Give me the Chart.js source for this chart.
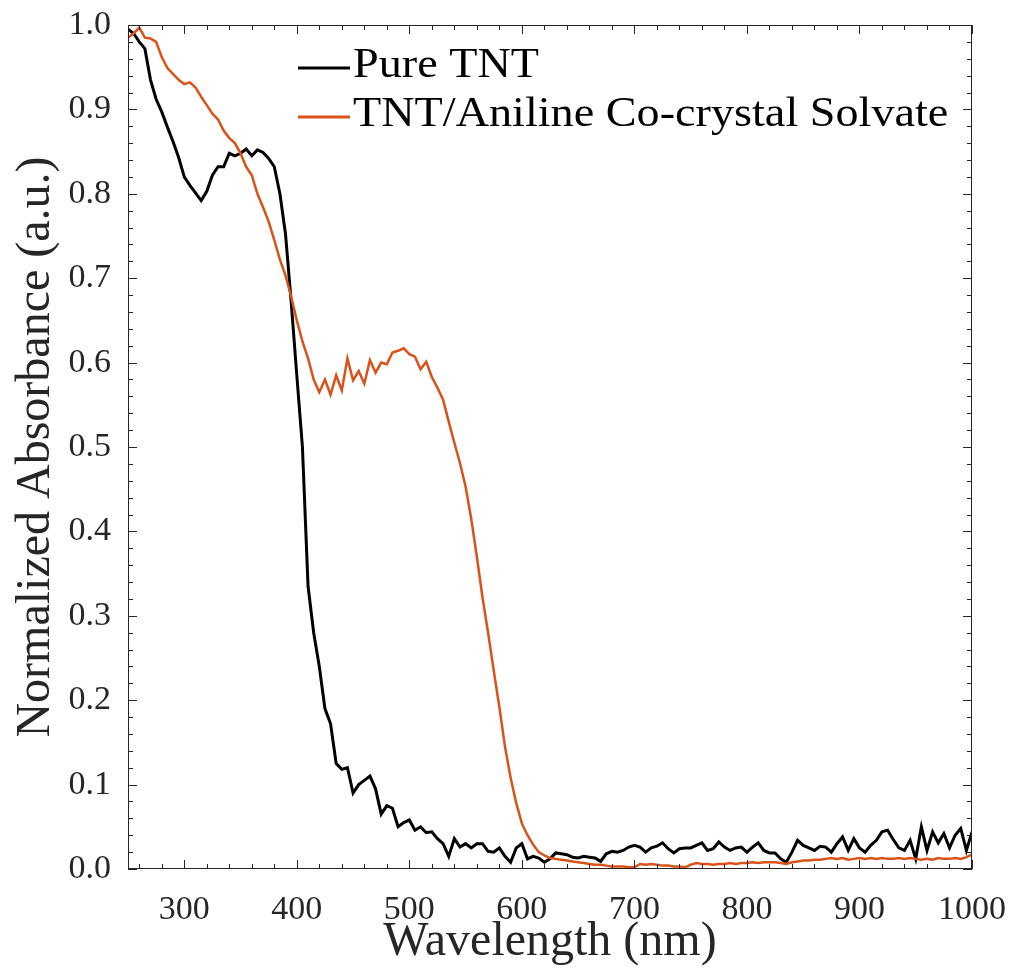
<!DOCTYPE html>
<html>
<head>
<meta charset="utf-8">
<script src="https://cdn.jsdelivr.net/npm/chart.js@4.4.1/dist/chart.umd.min.js"></script>
<style>
  body { margin: 0; background: #fff; }
  #wrap { width: 1011px; height: 971px; }
</style>
</head>
<body>
<div id="wrap"><canvas id="chSpec" width="1011" height="971"></canvas></div>
<script>
// sampling grid, 5 nm steps from 250 to 1000 nm
var wavelengths = [];
for (var w = 250; w <= 1000; w += 5) { wavelengths.push(w); }

// Pure TNT
var pureTNT = [
    0.995, 0.99, 0.98, 0.972, 0.935, 0.912, 0.897, 0.879, 0.862, 0.843,
    0.82, 0.81, 0.801, 0.792, 0.803, 0.822, 0.832, 0.832, 0.848, 0.845,
    0.848, 0.853, 0.845, 0.852, 0.849, 0.842, 0.832, 0.80, 0.752, 0.672,
    0.585, 0.50, 0.335, 0.28, 0.24, 0.19, 0.172, 0.125, 0.118, 0.12,
    0.09, 0.10, 0.105, 0.11, 0.095, 0.065, 0.075, 0.072, 0.05, 0.055,
    0.058, 0.046, 0.05, 0.043, 0.044, 0.036, 0.03, 0.015, 0.036, 0.026,
    0.03, 0.025, 0.03, 0.03, 0.021, 0.02, 0.025, 0.015, 0.008, 0.025,
    0.03, 0.012, 0.015, 0.013, 0.008, 0.012, 0.019, 0.018, 0.017, 0.014,
    0.013, 0.015, 0.014, 0.013, 0.009, 0.018, 0.021, 0.02, 0.022, 0.026,
    0.028, 0.026, 0.02, 0.025, 0.027, 0.031, 0.024, 0.019, 0.024, 0.025,
    0.025, 0.028, 0.031, 0.022, 0.024, 0.032, 0.026, 0.022, 0.025, 0.026,
    0.02, 0.026, 0.031, 0.022, 0.019, 0.019, 0.012, 0.008, 0.02, 0.034,
    0.028, 0.025, 0.022, 0.027, 0.026, 0.02, 0.03, 0.038, 0.022, 0.036,
    0.025, 0.02, 0.028, 0.034, 0.044, 0.046, 0.035, 0.025, 0.022, 0.034,
    0.012, 0.05, 0.022, 0.044, 0.031, 0.042, 0.025, 0.04, 0.048, 0.022,
    0.044
];

// TNT/Aniline co-crystal solvate
var coCrystal = [
    0.985, 0.99, 0.997, 0.985, 0.984, 0.98, 0.962, 0.949, 0.942, 0.935,
    0.93, 0.932, 0.926, 0.915, 0.905, 0.895, 0.888, 0.875, 0.866, 0.86,
    0.848, 0.832, 0.822, 0.80, 0.784, 0.767, 0.745, 0.722, 0.703, 0.678,
    0.65, 0.625, 0.605, 0.58, 0.565, 0.58, 0.562, 0.585, 0.567, 0.605,
    0.579, 0.59, 0.575, 0.603, 0.588, 0.60, 0.598, 0.612, 0.614, 0.617,
    0.61, 0.607, 0.592, 0.601, 0.583, 0.57, 0.556, 0.53, 0.505, 0.481,
    0.453, 0.415, 0.37, 0.322, 0.28, 0.235, 0.192, 0.145, 0.108, 0.078,
    0.054, 0.04, 0.029, 0.02, 0.016, 0.013, 0.012, 0.011, 0.01, 0.009,
    0.008, 0.007, 0.006, 0.005, 0.005, 0.004, 0.003, 0.003, 0.003, 0.002,
    0.002, 0.006, 0.005, 0.006, 0.005, 0.004, 0.004, 0.003, 0.003, 0.002,
    0.005, 0.007, 0.006, 0.006, 0.005, 0.006, 0.006, 0.007, 0.006, 0.007,
    0.007, 0.008, 0.007, 0.008, 0.008, 0.008, 0.007, 0.006, 0.008, 0.009,
    0.01, 0.01, 0.011, 0.011, 0.012, 0.013, 0.012, 0.013, 0.011, 0.012,
    0.013, 0.012, 0.013, 0.012, 0.013, 0.012, 0.012, 0.013, 0.012, 0.013,
    0.012, 0.011, 0.012, 0.011, 0.013, 0.012, 0.012, 0.013, 0.012, 0.014,
    0.017
];

var seriesNames = ['Pure TNT', 'TNT/Aniline Co-crystal Solvate'];
var seriesColors = ['#000000', '#D95319'];
var xTicks = [300, 400, 500, 600, 700, 800, 900, 1000];

var axisColor = '#262626';
var fontFam = '"Liberation Serif", "Times New Roman", serif';

function toPoints(vals) {
    return vals.map(function (v, i) { return { x: wavelengths[i], y: v }; });
}

// box, inward ticks (major + minor) and legend
var framePlugin = {
    id: 'frame',
    afterDatasetsDraw: function (chart) {
        var ctx = chart.ctx;
        var a = chart.chartArea;
        var xs = chart.scales.x, ys = chart.scales.y;
        ctx.save();
        ctx.strokeStyle = axisColor;
        ctx.lineWidth = 1;
        ctx.strokeRect(a.left + 0.5, a.top + 0.5, a.right - a.left - 1, a.bottom - a.top - 1);
        ctx.beginPath();
        // x ticks every 20 nm
        for (var w = 260; w <= 1000; w += 20) {
            var px = Math.round(xs.getPixelForValue(w)) + 0.5;
            var len = (w % 100 === 0) ? 9 : 5;
            ctx.moveTo(px, a.bottom); ctx.lineTo(px, a.bottom - len);
            ctx.moveTo(px, a.top); ctx.lineTo(px, a.top + len);
        }
        // y ticks every 0.02
        for (var k = 0; k <= 50; k++) {
            var py = Math.round(ys.getPixelForValue(k * 0.02)) + 0.5;
            var l2 = (k % 5 === 0) ? 9 : 5;
            ctx.moveTo(a.left, py); ctx.lineTo(a.left + l2, py);
            ctx.moveTo(a.right, py); ctx.lineTo(a.right - l2, py);
        }
        ctx.stroke();

        // legend
        ctx.font = '42px ' + fontFam;
        ctx.textBaseline = 'middle';
        ctx.fillStyle = '#000';
        for (var i = 0; i < seriesNames.length; i++) {
            var ly = 68 + i * 49;
            ctx.strokeStyle = seriesColors[i];
            ctx.lineWidth = 3;
            ctx.beginPath();
            ctx.moveTo(298, ly); ctx.lineTo(350, ly);
            ctx.stroke();
            ctx.save();
            ctx.translate(353, ly - 2);
            ctx.scale(1.1, 1);
            ctx.fillText(seriesNames[i], 0, 0);
            ctx.restore();
        }
        ctx.restore();
    }
};

new Chart(document.getElementById('chSpec'), {
    type: 'line',
    data: {
        datasets: [
            {
                label: seriesNames[0],
                data: toPoints(pureTNT),
                borderColor: seriesColors[0],
                borderWidth: 3,
                pointRadius: 0,
                tension: 0,
                order: 1
            },
            {
                label: seriesNames[1],
                data: toPoints(coCrystal),
                borderColor: seriesColors[1],
                borderWidth: 2.5,
                pointRadius: 0,
                tension: 0,
                order: 0
            }
        ]
    },
    options: {
        responsive: false,
        animation: false,
        layout: { padding: { top: 25, right: 39, left: 0, bottom: 0 } },
        plugins: { legend: { display: false }, tooltip: { enabled: false } },
        scales: {
            x: {
                type: 'linear',
                min: 250,
                max: 1000,
                afterFit: function (s) { s.height = 102; s.paddingLeft = 0; s.paddingRight = 0; },
                afterBuildTicks: function (s) {
                    s.ticks = xTicks.map(function (v) { return { value: v }; });
                },
                grid: { display: false },
                border: { display: false },
                ticks: {
                    autoSkip: false,
                    maxRotation: 0,
                    padding: 13,
                    color: axisColor,
                    font: { family: fontFam, size: 34 },
                    callback: function (v) { return String(v); }
                },
                title: {
                    display: true,
                    text: 'Wavelength (nm)',
                    color: axisColor,
                    font: { family: fontFam, size: 48, lineHeight: 1.2 },
                    padding: { top: 0, bottom: 0 }
                }
            },
            y: {
                min: 0,
                max: 1,
                afterFit: function (s) { s.width = 128; s.paddingTop = 0; s.paddingBottom = 0; },
                grid: { display: false },
                border: { display: false },
                ticks: {
                    stepSize: 0.1,
                    padding: 9,
                    color: axisColor,
                    font: { family: fontFam, size: 34 },
                    callback: function (v) { return v.toFixed(1); }
                },
                title: {
                    display: true,
                    text: 'Normalized Absorbance (a.u.)',
                    color: axisColor,
                    font: { family: fontFam, size: 48, lineHeight: 1.2 },
                    padding: { top: 8, bottom: 0 }
                }
            }
        }
    },
    plugins: [framePlugin]
});
</script>
</body>
</html>
